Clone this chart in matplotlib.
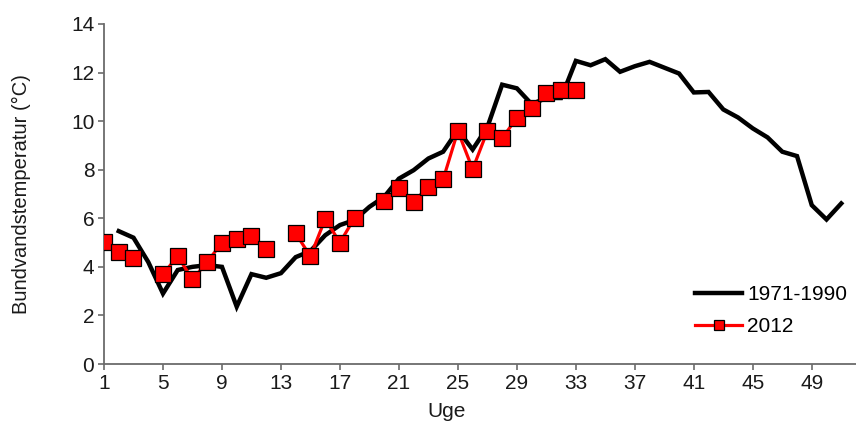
import numpy as np
import matplotlib
matplotlib.use('Agg')
import matplotlib.pyplot as plt

# Data ------------------------------------------------------------------
uger_ref = np.arange(2, 52)                 # 1971-1990, uge 2..51
temp_ref = [5.47, 5.2, 4.2, 2.9, 3.87, 4.0, 4.07, 4.0, 2.36, 3.7,
            3.55, 3.74, 4.4, 4.65, 5.3, 5.72, 5.93, 6.47, 6.88, 7.63,
            7.98, 8.46, 8.74, 9.63, 8.83, 9.75, 11.5, 11.35, 10.7, 10.95,
            10.95, 12.48, 12.3, 12.55, 12.03, 12.26, 12.44, 12.2, 11.96, 11.18,
            11.2, 10.48, 10.15, 9.7, 9.33, 8.74, 8.56, 6.54, 5.95, 6.61]

uger_2012 = np.arange(1, 34)                # 2012, uge 1..33 (manglende = nan)
temp_2012 = [5.03, 4.62, 4.35, np.nan, 3.7, 4.44, 3.48, 4.2, 5.0, 5.13,
             5.27, 4.74, np.nan, 5.38, 4.43, 5.97, 5.0, 6.02, np.nan, 6.72,
             7.23, 6.68, 7.3, 7.6, 9.59, 8.02, 9.59, 9.29, 10.14, 10.56,
             11.14, 11.3, 11.3]

xticks = np.arange(1, 50, 4)
yticks = np.arange(0, 15, 2)

# Plot ------------------------------------------------------------------
plt.rcParams['font.family'] = ['Liberation Sans', 'DejaVu Sans']
akse_farve = '#6b6b6b'
tekst_farve = '#1a1a1a'

fig = plt.figure(figsize=(8.56, 4.24), dpi=100)
ax = fig.add_axes([0.1215, 0.1415, 0.8785, 0.802])

ax.plot(uger_ref, temp_ref, color='black', linewidth=3.2,
        solid_joinstyle='miter', label='1971-1990', zorder=2)
ax.plot(uger_2012, temp_2012, color='#ff0000', linewidth=2.3,
        marker='s', markersize=11, markerfacecolor='#ff0000',
        markeredgecolor='black', markeredgewidth=0.9, label='2012', zorder=3)

ax.set_xlim(1, 52)
ax.set_ylim(0, 14)
ax.set_xticks(xticks)
ax.set_yticks(yticks)

for side in ['top', 'right']:
    ax.spines[side].set_visible(False)
for side in ['left', 'bottom']:
    ax.spines[side].set_color(akse_farve)
    ax.spines[side].set_linewidth(1.3)

ax.tick_params(direction='out', length=4, width=1.2, color=akse_farve,
               labelsize=15, labelcolor=tekst_farve, pad=3)

ax.set_xlabel('Uge', fontsize=15, color=tekst_farve)
ax.xaxis.set_label_coords(0.456, -0.113)
ax.set_ylabel('Bundvandstemperatur (°C)', fontsize=14.5, color=tekst_farve)
ax.yaxis.set_label_coords(-0.097, 0.5)

ax.legend(loc='center left', bbox_to_anchor=(0.786, 0.157), frameon=False,
          fontsize=15, handlelength=2.25, handletextpad=0.25,
          labelspacing=0.6, borderpad=0, borderaxespad=0,
          numpoints=1, markerscale=0.65)

fig.savefig('out.png', dpi=100)
